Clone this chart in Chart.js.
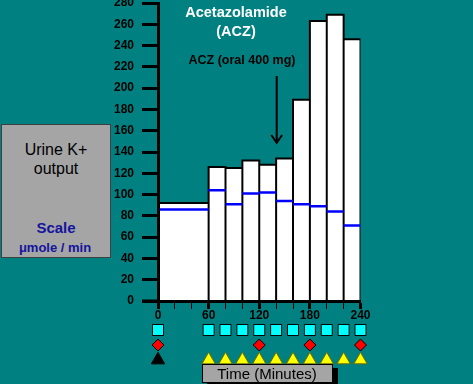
<!DOCTYPE html>
<html><head><meta charset="utf-8">
<script src="https://cdn.jsdelivr.net/npm/chart.js@4.4.1/dist/chart.umd.min.js"></script>
<style>
html,body{margin:0;padding:0;background:#008080;overflow:hidden}
#wrap{position:relative;width:473px;height:384px;background:#008080;font-family:'Liberation Sans',Arial,sans-serif;overflow:hidden}
canvas{position:absolute;left:0}
.t{position:absolute;white-space:nowrap;line-height:1;transform:translateX(-50%)}
.box{position:absolute;background:#a5a5a5;box-sizing:border-box}
</style></head><body>
<div id="wrap">
<canvas id="main" width="473" height="384" style="top:0"></canvas>
<canvas id="marks" width="473" height="60" style="top:315px;width:473px;height:60px"></canvas>

<div class="box" style="left:1px;top:124px;width:110px;height:134px;border:1px solid #404040"></div>
<div class="t" style="left:56px;top:142px;font-size:16px;color:#000">Urine K+</div>
<div class="t" style="left:56px;top:161px;font-size:16px;color:#000">output</div>
<div class="t" style="left:56px;top:220px;font-size:15px;font-weight:bold;color:#14149c">Scale</div>
<div class="t" style="left:55px;top:241px;font-size:13px;font-weight:bold;color:#14149c">μmole / min</div>

<div class="t" style="left:236px;top:4.6px;font-size:14.5px;font-weight:bold;color:#fff">Acetazolamide</div>
<div class="t" style="left:236px;top:23.6px;font-size:14.5px;font-weight:bold;color:#fff">(ACZ)</div>
<div class="t" style="left:242px;top:54.4px;font-size:12.5px;font-weight:bold;color:#000">ACZ (oral 400 mg)</div>
<svg style="position:absolute;left:0;top:0" width="473" height="384">
  <line x1="276.7" y1="76" x2="276.7" y2="142.5" stroke="#000" stroke-width="2"/>
  <polyline points="271.3,135 276.7,142.7 282.1,135" stroke="#000" stroke-width="2" fill="none"/>
</svg>

<div class="box" style="left:202px;top:364px;width:131px;height:19px;border:1px solid #000;box-shadow:5px 4px 0 #000"></div>
<div class="t" style="left:267px;top:366px;font-size:15px;color:#000">Time (Minutes)</div>
</div>
<script>
// ---- data ----
const binStart   = [0, 60, 80, 100, 120, 140, 160, 180, 200, 220];
const binEnd     = [60, 80, 100, 120, 140, 160, 180, 200, 220, 240];
const urineK     = [92, 126, 125, 132, 128, 134, 189, 263, 269, 246];
const baselineK  = [86, 104, 91, 101, 102, 94, 91, 89, 84, 71];
const xTickLabels = [0, 60, 120, 180, 240];
const urineTimes   = [0, 60, 80, 100, 120, 140, 160, 180, 200, 220, 240];
const bloodTimes   = [0, 120, 180, 240];
const controlTimes = [0];
const acZTimes     = [60, 80, 100, 120, 140, 160, 180, 200, 220, 240];

const FONT = "'Liberation Sans', Arial, sans-serif";

// build outline/fill points for bars
const barPts = [];
binStart.forEach((s, i) => {
  const e = binEnd[i], v = urineK[i];
  barPts.push({x: s, y: 0}, {x: s, y: v}, {x: e, y: v}, {x: e, y: 0});
});
const basePts = [];
binStart.forEach((s, i) => {
  basePts.push({x: s, y: baselineK[i]}, {x: binEnd[i], y: baselineK[i]}, {x: binEnd[i], y: null});
});

const axisExt = {
  id: 'axisExt',
  afterDraw(chart) {
    const {ctx, scales: {x, y}} = chart;
    const py = y.getPixelForValue(0);
    ctx.save();
    ctx.strokeStyle = '#000'; ctx.lineWidth = 3;
    ctx.beginPath(); ctx.moveTo(x.left - 16, py); ctx.lineTo(x.left, py); ctx.stroke();
    ctx.restore();
  }
};

new Chart(document.getElementById('main'), {
  type: 'line',
  data: {datasets: [
    {data: basePts, borderColor: '#0000ff', borderWidth: 2.5, pointRadius: 0, spanGaps: false, fill: false, order: 0},
    {data: barPts, borderColor: '#000', borderWidth: 2, backgroundColor: '#fff', fill: 'origin', pointRadius: 0, order: 1}
  ]},
  options: {
    responsive: false, maintainAspectRatio: false, animation: false, events: [],
    layout: {autoPadding: false, padding: {left: 0, top: 3, right: 112.5, bottom: 0}},
    plugins: {legend: {display: false}, tooltip: {enabled: false}},
    scales: {
      x: {
        type: 'linear', min: 0, max: 240,
        afterFit(s) { s.height = 83; },
        ticks: {stepSize: 20, autoSkip: false, maxRotation: 0, padding: -1, color: '#000',
          font: {family: FONT, size: 12, weight: 'bold'},
          callback: v => xTickLabels.includes(v) ? String(v) : ''},
        grid: {drawOnChartArea: false, tickLength: 8, tickColor: '#000',
          tickWidth: c => (c.tick && c.tick.value % 60 === 0) ? 3 : 1},
        border: {color: '#000', width: 3, z: 1}
      },
      y: {
        min: 0, max: 280,
        afterFit(s) { s.width = 158; s.paddingTop = 0; s.paddingBottom = 0; },
        ticks: {stepSize: 20, autoSkip: false, padding: 8, color: '#000',
          font: {family: FONT, size: 12, weight: 'bold'}},
        grid: {drawOnChartArea: false, tickLength: 16, tickWidth: 3, tickColor: '#000'},
        border: {color: '#000', width: 3, z: 1}
      }
    }
  },
  plugins: [axisExt]
});

new Chart(document.getElementById('marks'), {
  type: 'scatter',
  data: {datasets: [
    {data: urineTimes.map(t => ({x: t, y: 3})), pointStyle: 'rect', pointRadius: 7.8, backgroundColor: '#00ffff', borderColor: '#000', borderWidth: 1, clip: false},
    {data: bloodTimes.map(t => ({x: t, y: 2})), pointStyle: 'rectRot', pointRadius: 6, backgroundColor: '#ff0000', borderColor: '#000', borderWidth: 1, clip: false},
    {data: controlTimes.map(t => ({x: t, y: 1})), pointStyle: 'triangle', pointRadius: 7.7, backgroundColor: '#000', borderColor: '#000', borderWidth: 1, clip: false},
    {data: acZTimes.map(t => ({x: t, y: 1})), pointStyle: 'triangle', pointRadius: 7.7, backgroundColor: '#ffff00', borderColor: '#6a6a00', borderWidth: 1, clip: false}
  ]},
  options: {
    responsive: false, maintainAspectRatio: false, animation: false, events: [],
    layout: {autoPadding: false, padding: {left: 158, right: 112.5, top: 0, bottom: 0}},
    plugins: {legend: {display: false}, tooltip: {enabled: false}},
    scales: {
      x: {type: 'linear', display: false, min: 0, max: 240},
      y: {display: false, min: 0, max: 4}
    }
  }
});
</script>
</body></html>
